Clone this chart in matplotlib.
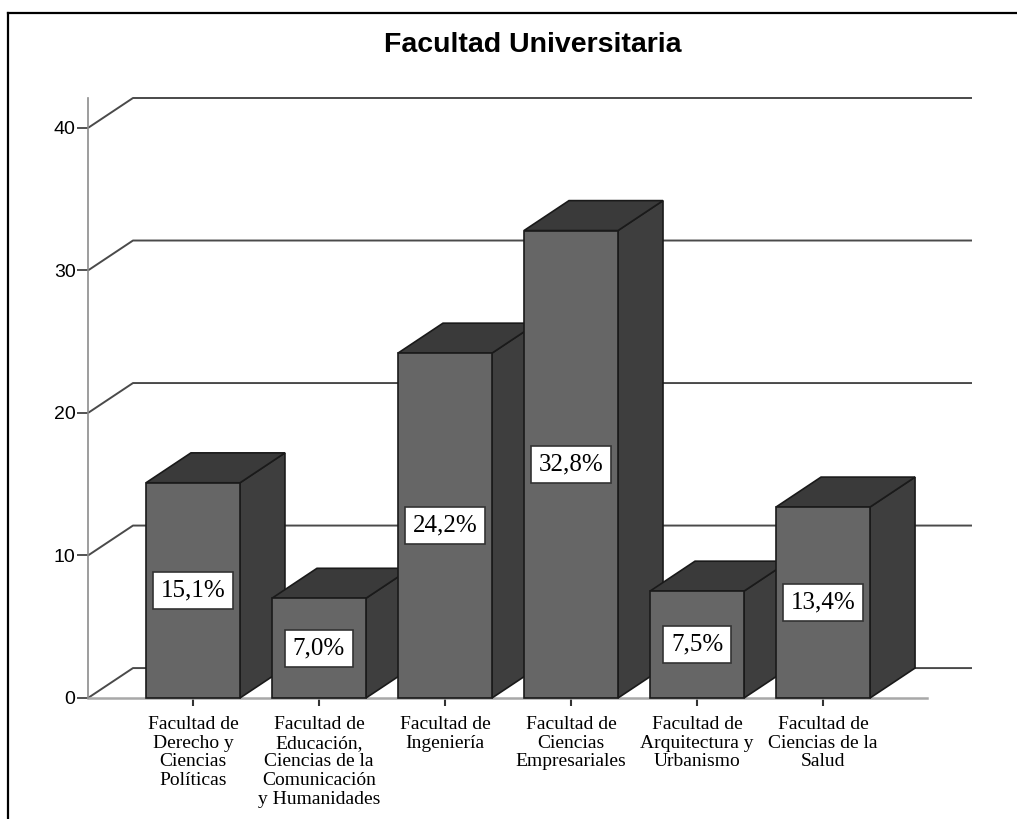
import matplotlib
matplotlib.use("Agg")
import matplotlib.pyplot as plt
from matplotlib.patches import Polygon
from matplotlib.lines import Line2D

# data
categories = [
    "Facultad de\nDerecho y\nCiencias\nPolíticas",
    "Facultad de\nEducación,\nCiencias de la\nComunicación\ny Humanidades",
    "Facultad de\nIngeniería",
    "Facultad de\nCiencias\nEmpresariales",
    "Facultad de\nArquitectura y\nUrbanismo",
    "Facultad de\nCiencias de la\nSalud",
]
percentages = [15.1, 7.0, 24.2, 32.8, 7.5, 13.4]
y_ticks = [0, 10, 20, 30, 40]
title = "Facultad Universitaria"

# 3d look
BAR_W = 0.746
DX = 0.357
DY = 2.1
FRONT = "#666666"
SIDE = "#3e3e3e"
TOP = "#3a3a3a"
EDGE = "#1a1a1a"

W, H = 1017, 819
fig = plt.figure(figsize=(W / 100, H / 100), dpi=100)
ax = fig.add_axes([88 / W, (H - 698) / H, (927 - 88) / W, (698 - 98) / H])
ax.set_xlim(-0.833, 5.825)
ax.set_ylim(0, 42.1)

# back grid lines with the diagonal step at the left wall
x0, x1 = ax.get_xlim()
for v in y_ticks:
    ax.plot([x0, x0 + DX, x1 + DX], [v, v + DY, v + DY], color="#4a4a4a",
            lw=1.4, clip_on=False, zorder=1, solid_capstyle="butt")

# bars, left to right so each one sits in front of the previous side face
for i, val in enumerate(percentages):
    l, r = i - BAR_W / 2, i + BAR_W / 2
    z = 3 + i
    side = Polygon([(r, 0), (r + DX, DY), (r + DX, val + DY), (r, val)],
                   closed=True, fc=SIDE, ec=EDGE, lw=1.2, zorder=z, clip_on=False)
    top = Polygon([(l, val), (l + DX, val + DY), (r + DX, val + DY), (r, val)],
                  closed=True, fc=TOP, ec=EDGE, lw=1.2, zorder=z, clip_on=False)
    front = Polygon([(l, 0), (r, 0), (r, val), (l, val)],
                    closed=True, fc=FRONT, ec=EDGE, lw=1.2, zorder=z, clip_on=False)
    for p in (side, top, front):
        ax.add_patch(p)
    ax.text(i, val / 2, f"{val:.1f}%".replace(".", ","), ha="center", va="center",
            family="Liberation Serif", fontsize=18, zorder=z + 0.5,
            bbox=dict(boxstyle="square,pad=0.3", fc="white", ec="#333333", lw=1.2))

ax.spines["top"].set_visible(False)
ax.spines["right"].set_visible(False)
ax.spines["left"].set_color("#8c8c8c")
ax.spines["left"].set_linewidth(1.2)
ax.spines["bottom"].set_color("#a8a8a8")
ax.spines["bottom"].set_linewidth(1.8)
ax.spines["bottom"].set_zorder(2)

ax.set_yticks(y_ticks)
ax.set_yticklabels([str(t) for t in y_ticks], family="Liberation Sans", fontsize=14)
ax.tick_params(axis="y", length=8, width=1.3, color="#444444", pad=1)

ax.set_xticks(range(len(categories)))
ax.set_xticklabels(categories, family="Liberation Serif", fontsize=14, linespacing=1.13)
ax.tick_params(axis="x", length=6, width=1.5, color="#333333", pad=7)

fig.text(533 / W, 1 - 45 / H, title, ha="center", va="center",
         family="Liberation Sans", fontweight="bold", fontsize=20.5)

# outer frame (left and top only, the rest is cropped)
fig.add_artist(Line2D([8 / W, 8 / W], [0, 1 - 13 / H], color="black", lw=1.6))
fig.add_artist(Line2D([8 / W, 1], [1 - 13 / H, 1 - 13 / H], color="black", lw=1.6))

fig.savefig("out.png", dpi=100)
plt.close(fig)
